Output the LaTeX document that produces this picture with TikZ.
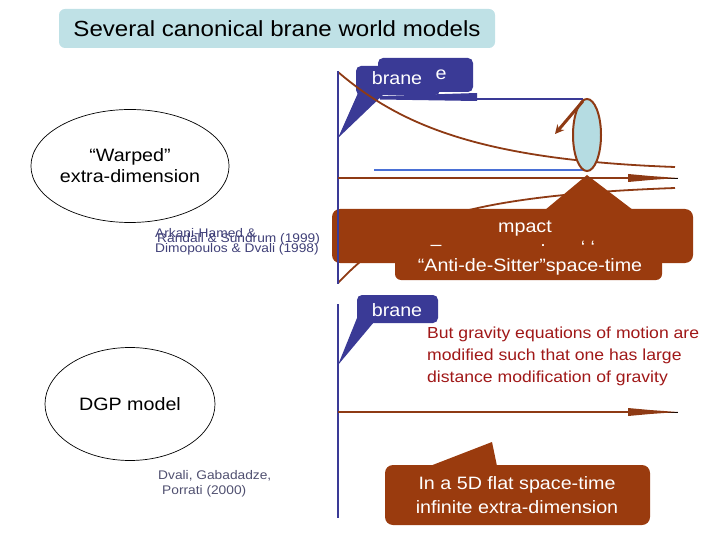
\documentclass[tikz,border=0pt]{standalone}
\usepackage{fontspec}
\setmainfont[FakeStretch=1.1]{Liberation Sans}
\usetikzlibrary{shapes.geometric,arrows.meta}
\definecolor{brn}{HTML}{9A3B0E}
\definecolor{brnline}{HTML}{8E3A14}
\definecolor{bluedk}{HTML}{3A3A96}
\definecolor{bluelt}{HTML}{4A70D6}
\definecolor{cyanfill}{HTML}{B5DCE2}
\definecolor{titlefill}{HTML}{BFE1E6}
\definecolor{smalltxt}{HTML}{404078}
\definecolor{smalltxtb}{HTML}{505070}
\definecolor{redtxt}{HTML}{A01818}
\tikzset{
  fmid/.style={font=\fontsize{17.9}{21}\selectfont},
  fsmall/.style={font=\fontsize{12.5}{14}\selectfont},
  fred/.style={font=\fontsize{16}{22}\selectfont},
  model/.style={draw=black, line width=0.7pt, ellipse, minimum width=170pt, minimum height=113pt, inner sep=0pt, align=center, fmid},
  braneline/.style={draw=bluedk, line width=2.6pt},
  dimarrow/.style={draw=brnline, line width=2.2pt},
  wtxt/.style={text=white, inner sep=0pt, fmid},
}
\begin{document}
\begin{tikzpicture}[x=1pt,y=-1pt]
\useasboundingbox (0,0) rectangle (720,540);
% title
\fill[titlefill, rounded corners=6pt] (59,9) rectangle (495,48);
\node[inner sep=0pt, font=\fontsize{21.9}{24}\selectfont] (title) at (277,29) {Several canonical brane world models};

% ---------- upper (warped) ----------
\node[model] (warp) at (130,166) {\textquotedblleft Warped\textquotedblright\\extra-dimension};
\node[fsmall, text=smalltxt, anchor=west, inner sep=0pt] (ah) at (155,233) {Arkani-Hamed \&};
\node[fsmall, text=smalltxt, anchor=west, inner sep=0pt] (rs) at (157,239) {Randall \& Sundrum (1999)};
\node[fsmall, text=smalltxt, anchor=west, inner sep=0pt] (dd) at (155,249) {Dimopoulos \& Dvali (1998)};

% blue callout top
\fill[bluedk, rounded corners=5pt] (356,66) rectangle (440,95);
\fill[bluedk, rounded corners=5pt] (378,58) rectangle (473,92);
\fill[bluedk] (358,93) -- (385,93) -- (338,138) -- cycle;
\fill[bluedk] (380,96) -- (477,93) -- (477,101) -- (380,99.5) -- cycle;
\node[wtxt] (brane1) at (397,78) {brane};
\node[wtxt] (brane1e) at (441,75) {e};

\coordinate (b1top) at (338,71);
\coordinate (b1bot) at (338,284);
\coordinate (h1s) at (338,178);
\coordinate (h1e) at (678,178);

% lines behind the AdS box
\draw[draw=bluedk, line width=1.6pt] (477,99) -- (583,99);
\draw[draw=bluelt, line width=2.4pt] (374,170) -- (587,170);
\draw[brnline, line width=1.8pt] (338,72) .. controls (400,125) and (480,160) .. (675,167);
\draw[brnline, line width=1.8pt] (338,283) .. controls (392,226) and (452,196) .. (675,188);

% brown box with tail (AdS)
\fill[brn] (545,210) -- (587,175) -- (633,210) -- cycle;
\fill[brn, rounded corners=8pt] (332,209) rectangle (693,263);
\fill[brn, rounded corners=6pt] (395,250) rectangle (662,280);
\node[wtxt] (impact) at (525,229) {mpact};
\node[wtxt] (frag1) at (436,248) {–};
\node[wtxt] (frag2) at (543,246) {.};
\node[wtxt] (frag3) at (588,247) {‘ `};
\node[wtxt] (ads) at (530,267) {\textquotedblleft Anti-de-Sitter\textquotedblright space-time};

\draw[braneline] (b1top) -- (b1bot);
\draw[dimarrow] (h1s) -- (640,178);
\draw[black, line width=0.8pt] (640,178) -- (h1e);
\fill[brnline] (628,174) -- (650,176) -- (678,178) -- (650,180) -- (628,182) -- cycle;

% ellipse
\node[draw=brnline, line width=2pt, fill=cyanfill, ellipse, minimum width=28pt, minimum height=72pt, inner sep=0pt] (tube) at (587,135) {};
\coordinate (tubetip) at (555,134);
\draw[brnline, line width=3pt, -{Stealth[length=9pt,width=9pt]}] (583,101) -- (tubetip);

% ---------- lower (DGP) ----------
\node[model] (dgp) at (130,404) {DGP model};
\node[fsmall, text=smalltxtb, anchor=west, inner sep=0pt] (dgp1) at (158,476) {Dvali, Gabadadze,};
\node[fsmall, text=smalltxtb, anchor=west, inner sep=0pt] (dgp2) at (162,491) {Porrati (2000)};

\coordinate (b2top) at (338,304);
\coordinate (b2bot) at (338,518);
\coordinate (h2s) at (338,412);
\coordinate (h2e) at (678,412);
\draw[braneline] (b2top) -- (b2bot);
\draw[dimarrow] (h2s) -- (640,412);
\draw[black, line width=0.8pt] (640,412) -- (h2e);
\fill[brnline] (628,408) -- (650,410) -- (678,412) -- (650,414) -- (628,416) -- cycle;

\fill[bluedk, rounded corners=5pt] (357,295) rectangle (438,323);
\fill[bluedk] (357,318) -- (374,322) -- (338,365) -- cycle;
\node[wtxt] (brane2) at (397,310) {brane};

\node[fred, text=redtxt, anchor=north west, align=left, inner sep=0pt] (gravtxt) at (427,327) {But gravity equations of motion are\\modified such that one has large\\distance modification of gravity};

\fill[brn] (430,466) -- (492,442) -- (497,466) -- cycle;
\fill[brn, rounded corners=8pt] (385,465) rectangle (650,525);
\node[wtxt, align=center, font=\fontsize{17.9}{24.5}\selectfont] (flat) at (517,495) {In a 5D flat space-time\\infinite extra-dimension};
\end{tikzpicture}
\end{document}
